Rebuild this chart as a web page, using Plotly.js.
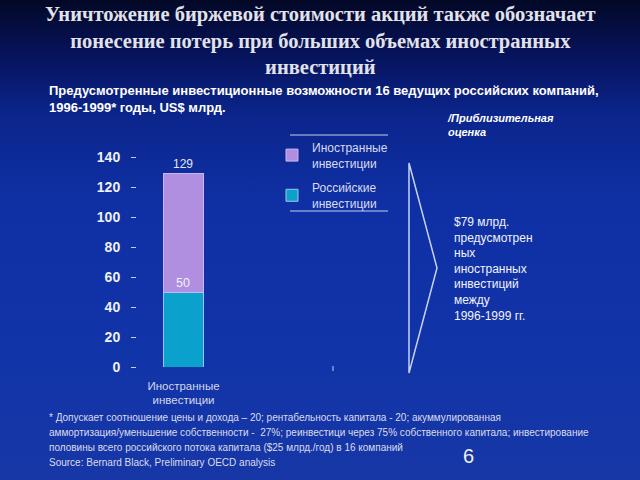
<!DOCTYPE html>
<html>
<head>
<meta charset="utf-8">
<script src="https://cdn.plot.ly/plotly-3.0.1.min.js"></script>
<style>
html,body{margin:0;padding:0;}
body{width:640px;height:480px;overflow:hidden;
background:linear-gradient(to bottom,#030826 0%,#06145e 12%,#0b258c 24%,#0f30a4 42%,#1134a8 75%,#1737a6 100%);}
#chart{width:640px;height:480px;}
</style>
</head>
<body>
<div id="chart"></div>
<script>
// ---- data ----
const categories = ["Иностранные<br>инвестиции"];
const russianInv = [50];
const foreignInv = [79];
const russianName = "Российские<br>инвестиции";
const foreignName = "Иностранные<br>инвестиции";
const yTickVals = [0, 20, 40, 60, 80, 100, 120, 140];

// ---- layout geometry (pixels) ----
const W = 640, H = 480;
const L = 137, R = 340, T = 157, B = 367;
const px = x => (x - L) / (R - L);
const py = y => (B - y) / (B - T);

const totals = russianInv.map((v, i) => v + foreignInv[i]);
const foreignSum = foreignInv.reduce((a, b) => a + b, 0);

const traces = [
  {type: 'bar', x: [0], y: russianInv, name: russianName, legendgroup: 'ru', legendrank: 2, width: 0.274,
   marker: {color: '#0aa2cd', line: {color: '#9cc4ee', width: 1}}, hoverinfo: 'none'},
  {type: 'bar', x: [0], y: foreignInv, name: foreignName, legendgroup: 'fo', legendrank: 1, width: 0.274,
   marker: {color: '#b08ee0', line: {color: '#c8b8f0', width: 1}}, hoverinfo: 'none'}
];

const txt = '#e4e6f2';
const annotations = [
  {xref: 'paper', yref: 'paper', x: px(320), y: py(1), xanchor: 'center', yanchor: 'top', showarrow: false,
   text: 'Уничтожение биржевой стоимости акций также обозначает<br>понесение потерь при больших объемах иностранных<br>инвестиций',
   font: {family: 'Liberation Serif, serif', size: 20.5, color: '#e2e2ea', weight: 'bold'}},
  {xref: 'paper', yref: 'paper', x: px(47), y: py(81), xanchor: 'left', yanchor: 'top', align: 'left', showarrow: false,
   text: 'Предусмотренные инвестиционные возможности 16 ведущих российских компаний,<br>1996-1999* годы, US$ млрд.',
   font: {family: 'Liberation Sans, Arial, sans-serif', size: 13, color: '#ffffff', weight: 'bold'}},
  {xref: 'paper', yref: 'paper', x: px(445), y: py(110), xanchor: 'left', yanchor: 'top', align: 'left', showarrow: false,
   text: '<i>/Приблизительная<br>оценка</i>',
   font: {family: 'Liberation Sans, Arial, sans-serif', size: 11, color: '#ffffff', weight: 'bold'}},
  {xref: 'paper', yref: 'paper', x: px(452), y: py(213), xanchor: 'left', yanchor: 'top', align: 'left', showarrow: false,
   text: '$' + foreignSum + ' млрд.<br>предусмотрен<br>ных<br>иностранных<br>инвестиций<br>между<br>1996-1999 гг.',
   font: {family: 'Liberation Sans, Arial, sans-serif', size: 12, color: '#f2f2f8'}},
  {xref: 'paper', yref: 'paper', x: px(468), y: py(456), xanchor: 'center', yanchor: 'middle', showarrow: false,
   text: '6', font: {family: 'Liberation Sans, Arial, sans-serif', size: 20, color: '#f0f0f0'}}
];
// footnote lines
const foot = [
  '* Допускает соотношение цены и дохода – 20; рентабельность капитала - 20; акуммулированная',
  'аммортизация/уменьшение собственности -  27%; реинвестици через 75% собственного капитала; инвестирование',
  'половины всего российского потока капитала ($25 млрд./год) в 16 компаний',
  'Source: Bernard Black, Preliminary OECD analysis'
];
foot.forEach((t, i) => annotations.push({
  xref: 'paper', yref: 'paper', x: px(47), y: py(417 + 15 * i), xanchor: 'left', yanchor: 'middle', showarrow: false,
  text: t, font: {family: 'Liberation Sans, Arial, sans-serif', size: 10, color: '#dcdcec'}
}));
// value labels from data
totals.forEach((v, i) => annotations.push({
  x: i, y: v, xref: 'x', yref: 'y', yanchor: 'bottom', yshift: 1, showarrow: false,
  text: String(v), font: {family: 'Liberation Sans, Arial, sans-serif', size: 12, color: txt}
}));
russianInv.forEach((v, i) => annotations.push({
  x: i, y: v, xref: 'x', yref: 'y', yanchor: 'bottom', yshift: 0, showarrow: false,
  text: String(v), font: {family: 'Liberation Sans, Arial, sans-serif', size: 12.5, color: '#f0f0fa'}
}));

const lineCol = '#c8cdea';
const shapes = [
  {type: 'line', xref: 'paper', yref: 'paper', x0: px(290), x1: px(388), y0: py(135), y1: py(135), line: {color: lineCol, width: 1}},
  {type: 'line', xref: 'paper', yref: 'paper', x0: px(290), x1: px(388), y0: py(211), y1: py(211), line: {color: lineCol, width: 1}},
  {type: 'path', xref: 'paper', yref: 'paper',
   path: `M ${px(409)} ${py(163)} L ${px(437)} ${py(268)} L ${px(409)} ${py(373)} Z`,
   line: {color: '#c8d2f2', width: 1.5}},
  {type: 'line', xref: 'x', yref: 'paper', x0: 1, x1: 1, y0: py(366), y1: py(371), line: {color: '#c8cdea', width: 1}}
];

const layout = {
  width: W, height: H,
  margin: {l: L, r: W - R, t: T, b: H - B, pad: 0},
  paper_bgcolor: 'rgba(0,0,0,0)', plot_bgcolor: 'rgba(0,0,0,0)',
  barmode: 'stack',
  showlegend: true,
  legend: {x: px(272), y: py(133), xanchor: 'left', yanchor: 'top', traceorder: 'grouped',
           bgcolor: 'rgba(0,0,0,0)', font: {family: 'Liberation Sans, Arial, sans-serif', size: 12, color: '#d8dcf0'},
           itemwidth: 30, tracegroupgap: 6},
  xaxis: {type: 'linear', range: [-0.311, 1.047], tickvals: [0], ticktext: categories,
          showgrid: false, zeroline: false, showline: false, ticks: '', fixedrange: true, ticklabelstandoff: 10,
          tickfont: {family: 'Liberation Sans, Arial, sans-serif', size: 11.5, color: '#d4d8ec'}},
  yaxis: {range: [0, 140], tickvals: yTickVals, showgrid: false, zeroline: false, showline: false,
          ticks: 'outside', ticklen: 5, tickwidth: 1, tickcolor: '#c8cdea', ticklabelstandoff: 8,
          tickfont: {family: 'Liberation Sans, Arial, sans-serif', size: 14, color: '#eef0f8', weight: 'bold'}},
  annotations: annotations,
  shapes: shapes
};

Plotly.newPlot('chart', traces, layout, {staticPlot: true, displayModeBar: false});
</script>
</body>
</html>
